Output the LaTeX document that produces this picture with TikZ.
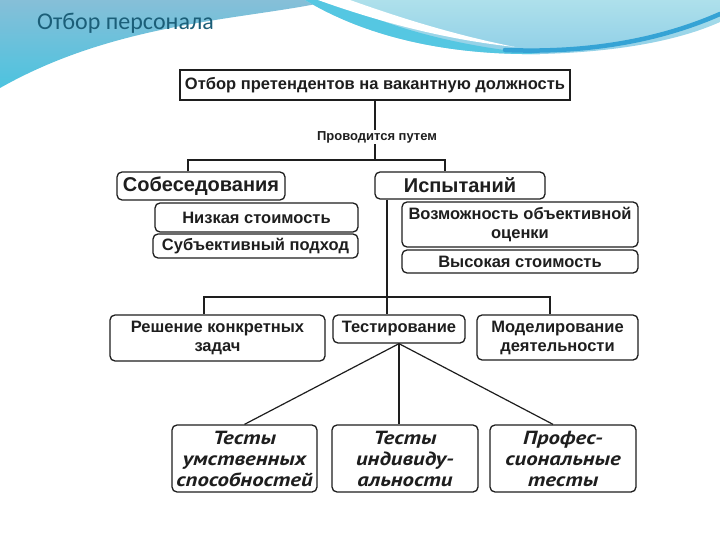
\documentclass[tikz,border=0pt]{standalone}
\usepackage{fontspec}
\setmainfont{Liberation Sans}
\newfontfamily\ptsans[FakeStretch=1.2]{PT Sans}
\newfontfamily\titlefont{Carlito}
\definecolor{ink}{HTML}{1E1E1E}
\definecolor{titlecol}{HTML}{1B5E78}
\definecolor{steelbg}{HTML}{86BFD8}
\definecolor{cyanbg}{HTML}{4CC3DF}
\definecolor{lightbg}{HTML}{AEE0EB}
\definecolor{lightbg2}{HTML}{8FCFE7}
\definecolor{bandbg}{HTML}{55C7E2}
\definecolor{stripebg}{HTML}{35A3D5}
\begin{document}
\begin{tikzpicture}[x=1pt,y=-1pt,
  box/.style={draw=ink, line width=1.3pt, rounded corners=5pt, inner sep=0pt,
    align=center, text=ink, font=\bfseries\fontsize{16.5}{19}\selectfont},
  bigbox/.style={box, font=\bfseries\fontsize{20}{22}\selectfont},
  topbox/.style={box, rounded corners=0pt, line width=2.2pt,
    font=\bfseries\fontsize{16.5}{19}\selectfont},
  itbox/.style={box, font=\ptsans\bfseries\itshape\fontsize{19}{21}\selectfont},
  lbl/.style={inner sep=1pt, text=ink, font=\bfseries\fontsize{13}{15}\selectfont},
  conn/.style={draw=ink, line width=1.2pt}]
\useasboundingbox (0,0) rectangle (720,540);
\fill[white] (0,0) rectangle (720,540);
% background waves
\shade[top color=steelbg, bottom color=cyanbg]
  (0,0) -- (335,0) .. controls (250,20) and (120,20) .. (0,88) -- cycle;
\shade[top color=lightbg, bottom color=lightbg2]
  (305,0) -- (720,0) -- (720,22) .. controls (680,40) and (620,52) .. (540,54)
  .. controls (470,55) and (380,45) .. (305,0) -- cycle;
\fill[bandbg] (305,0) .. controls (380,45) and (470,55) .. (540,54)
  .. controls (470,48) and (390,30) .. (335,0) -- cycle;
\fill[white] (318,0) .. controls (385,24) and (450,40) .. (515,47)
  .. controls (450,34) and (395,16) .. (350,0) -- cycle;
\draw[stripebg, line width=4.5pt, line cap=round]
  (505,50) .. controls (600,54) and (670,36) .. (720,14);
\node[anchor=base west, inner sep=0pt, text=titlecol,
  font=\titlefont\fontsize{24}{26}\selectfont] (title) at (37,30) {Отбор персонала};
% nodes
\node[topbox, minimum width=390, minimum height=30] (top) at (375,85)
  {Отбор претендентов на вакантную должность};
\node[lbl] (via) at (377,137) {Проводится путем};
\node[bigbox, minimum width=168, minimum height=28] (sob) at (201,186) {Собеседования};
\node[bigbox, minimum width=170, minimum height=27] (isp) at (460,185.5) {Испытаний};
\node[box, minimum width=203, minimum height=29] (low) at (256.5,217.5) {Низкая стоимость};
\node[box, minimum width=205, minimum height=24] (subj) at (255.5,246) {Субъективный подход};
\node[box, minimum width=236, minimum height=45] (obj) at (520,224.5)
  {Возможность объективной\\оценки};
\node[box, minimum width=236, minimum height=23] (high) at (520,261.5) {Высокая стоимость};
\node[box, minimum width=215, minimum height=46] (task) at (217.5,338)
  {Решение конкретных\\задач};
\node[box, minimum width=132, minimum height=28] (test) at (399,329) {Тестирование};
\node[box, minimum width=161, minimum height=45] (model) at (557.5,337.5)
  {Моделирование\\деятельности};
\node[itbox, minimum width=145, minimum height=67] (t1) at (244.5,458.5)
  {Тесты\\умственных\\способностей};
\node[itbox, minimum width=146, minimum height=67] (t2) at (405,458.5)
  {Тесты\\индивиду-\\альности};
\node[itbox, minimum width=146, minimum height=67] (t3) at (563,458.5)
  {Профес-\\сиональные\\тесты};
% connectors
\coordinate (s1) at (188,160);
\coordinate (s2) at (445,160);
\coordinate (sm) at (375,160);
\coordinate (r1) at (204,297);
\coordinate (rm) at (387,297);
\coordinate (r3) at (550,297);
\draw[conn] (top.south) -- (top.south |- via.north);
\draw[conn] (sm |- via.south) -- (sm);
\draw[conn] (s1 |- sob.north) -- (s1) -- (s2) -- (s2 |- isp.north);
\draw[conn] (rm |- isp.south) -- (rm);
\draw[conn] (r1 |- task.north) -- (r1) -- (r3) -- (r3 |- model.north);
\draw[conn] (rm) -- (rm |- test.north);
\draw[conn] (test.south) -- (t1.north);
\draw[conn] (test.south) -- (test.south |- t2.north);
\draw[conn] (test.south) -- ([xshift=-10pt]t3.north);
\end{tikzpicture}
\end{document}
